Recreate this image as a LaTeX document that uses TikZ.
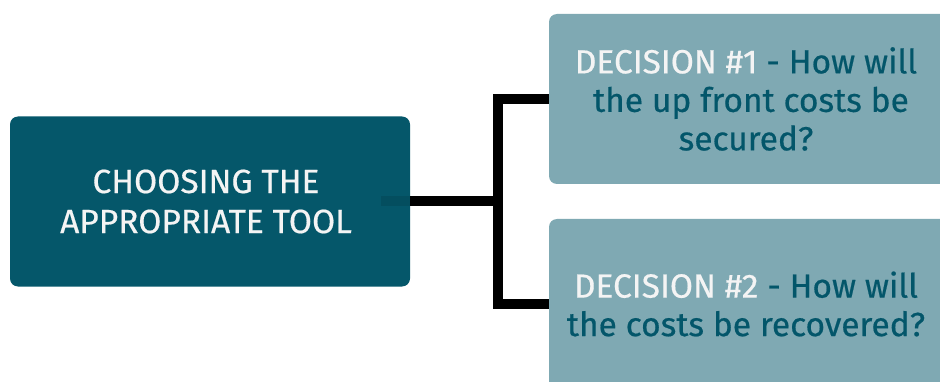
\documentclass[tikz,border=0pt]{standalone}
\usepackage{fontspec}
\setmainfont{Fira Sans}[FakeBold=0.5]
\definecolor{deepteal}{HTML}{05576A}
\definecolor{paleteal}{HTML}{7FA9B3}
\definecolor{inkteal}{HTML}{03566A}
\definecolor{offwhite}{HTML}{F4F4F4}
\newcommand{\padr}{\hspace*{10pt}}
\tikzset{
  mainbox/.style={fill=deepteal, rounded corners=8pt, minimum width=400pt, minimum height=170pt,
    text=offwhite, align=center, font=\fontsize{33.5}{40}\selectfont, inner sep=0pt},
  choicebox/.style={fill=paleteal, rounded corners=8pt, minimum width=404pt, minimum height=170pt,
    text=inkteal, align=center, font=\fontsize{33.5}{38.5}\selectfont, inner sep=0pt},
  conn/.style={line width=10pt, draw=black, line join=miter}
}
\begin{document}
\begin{tikzpicture}[x=1pt,y=-1pt]
  \useasboundingbox (0,0) rectangle (940,382);
  \clip (0,0) rectangle (940,382);
  \node[mainbox] (L) at (210,201.5) {CHOOSING THE\hspace*{8pt}\\APPROPRIATE TOOL\hspace*{8pt}};
  \node[choicebox] (T) at (751,99) {\textcolor{offwhite}{DECISION \#1} - How will\padr\\the up front costs be\padr\\secured?\padr};
  \node[choicebox] (B) at (751,304) {\textcolor{offwhite}{DECISION \#2} - How will\padr\\the costs be recovered?\padr};
  \coordinate (J) at (498,201);
  \draw[conn] (L.east |- J) -- (J);
  \draw[conn] (T.west) -| (J) |- (B.west);
  \fill[black, opacity=0.1] (381,196) rectangle (410,206);
\end{tikzpicture}
\end{document}
